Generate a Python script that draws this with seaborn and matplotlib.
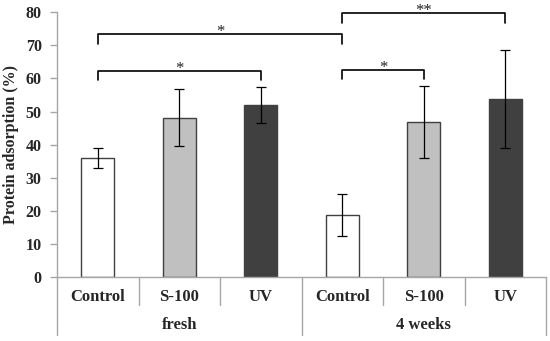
import pandas as pd
import numpy as np
import seaborn as sns
import matplotlib
matplotlib.use('Agg')
import matplotlib.pyplot as plt
import matplotlib.transforms as mtransforms

# data
groups = ['fresh', 'fresh', 'fresh', '4 weeks', '4 weeks', '4 weeks']
treatments = ['Control', 'S-100', 'UV', 'Control', 'S-100', 'UV']
means = [36.0, 48.2, 51.9, 18.7, 46.9, 53.8]
errors = [3.0, 8.6, 5.5, 6.4, 10.8, 14.7]
group_names = ['fresh', '4 weeks']

# significance brackets: (left bar, right bar, height, label)
brackets = [(0, 3, 73.3, '*'), (0, 2, 62.2, '*'), (3, 5, 79.7, '**'), (3, 4, 62.5, '*')]

sns.set_style('white')
plt.rcParams['font.family'] = ['Liberation Serif', 'DejaVu Serif']
plt.rcParams['font.weight'] = 'bold'

df = pd.DataFrame({'group': groups, 'treatment': treatments, 'mean': means, 'err': errors})
df['bar'] = df['group'] + ' ' + df['treatment']

fig = plt.figure(figsize=(5.5, 3.41), dpi=100)
ax = fig.add_axes([57 / 550, 64 / 341, 489 / 550, 264.7 / 341])

palette = {'Control': '#ffffff', 'S-100': '#c0c0c0', 'UV': '#404040'}
sns.barplot(data=df, x='bar', y='mean', hue='treatment', palette=palette,
            dodge=False, width=0.41, edgecolor='#404040', linewidth=1.0,
            legend=False, ax=ax)

ax.errorbar(np.arange(len(means)), means, yerr=errors, fmt='none',
            ecolor='black', elinewidth=0.9, capsize=3.5, capthick=0.9)

# significance brackets
drop = 2.8
for x0, x1, h, lab in brackets:
    ax.plot([x0, x0, x1, x1], [h - drop, h, h, h - drop], color='black', lw=1.2)
    ax.text((x0 + x1) / 2, h - 0.4, lab, ha='center', va='baseline',
            fontsize=12, fontweight='normal', color='#222222', clip_on=False)

ax.set_xlim(-0.5, 5.5)
ax.set_ylim(0, 80)
ax.set_yticks(range(0, 81, 10))
ax.set_xticks(range(len(treatments)))
ax.set_xticklabels(treatments, fontsize=12, fontweight='bold')
ax.tick_params(axis='x', length=0, pad=8.5)
ax.tick_params(axis='y', direction='out', length=5, width=1, color='#a6a6a6',
               labelsize=11.5, pad=6, left=True)
for t in ax.get_yticklabels():
    t.set_fontweight('bold')
ax.set_xlabel('')
ax.set_ylabel('Protein adsorption (%)', fontsize=11.5, fontweight='bold', labelpad=5)

for side in ['top', 'right']:
    ax.spines[side].set_visible(False)
for side in ['left', 'bottom']:
    ax.spines[side].set_color('#a6a6a6')
    ax.spines[side].set_linewidth(1.0)

# category table under the axis
trans = mtransforms.blended_transform_factory(ax.transData, ax.transAxes)
short_y, long_y = -0.106, -0.22
for x in [0.5, 1.5, 3.5, 4.5]:
    ax.plot([x, x], [0, short_y], color='#a6a6a6', lw=1.0, transform=trans, clip_on=False)
for x in [-0.5, 2.5, 5.5]:
    ax.plot([x, x], [0, long_y], color='#a6a6a6', lw=1.0, transform=trans, clip_on=False)
for i, g in enumerate(group_names):
    ax.text(1 + 3 * i, -0.18, g, ha='center', va='center', fontsize=12,
            fontweight='bold', transform=trans)

fig.savefig('out.png', dpi=100)
